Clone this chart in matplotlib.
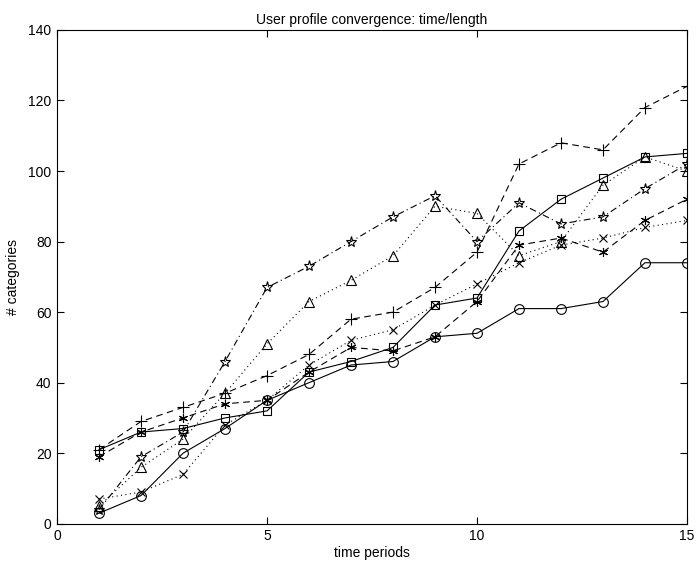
import matplotlib
matplotlib.use("Agg")
import matplotlib.pyplot as plt
import numpy as np

plt.rcParams["font.family"] = ["Liberation Sans", "DejaVu Sans"]

# time periods
periods = np.arange(1, 16)

# one list per user profile (# categories)
circle_vals = [3, 8, 20, 27, 35, 40, 45, 46, 53, 54, 61, 61, 63, 74, 74]
square_vals = [21, 26, 27, 30, 32, 43, 46, 50, 62, 64, 83, 92, 98, 104, 105]
plus_vals = [21, 29, 33, 37, 42, 48, 58, 60, 67, 77, 102, 108, 106, 118, 124]
star_vals = [4, 19, 26, 46, 67, 73, 80, 87, 93, 80, 91, 85, 87, 95, 102]
triangle_vals = [5, 16, 24, 37, 51, 63, 69, 76, 90, 88, 76, 80, 96, 104, 100]
cross_vals = [7, 9, 14, 28, 35, 45, 52, 55, 62, 68, 74, 79, 81, 84, 86]
asterisk_vals = [19, 26, 30, 34, 35, 43, 50, 49, 53, 63, 79, 81, 77, 86, 92]

title = "User profile convergence: time/length"
xlabel = "time periods"
ylabel = "# categories"

# matlab-style asterisk (6 spokes)
ASTERISK = (6, 2, 0)

series = [
    (circle_vals, "o", "-", 7),
    (square_vals, "s", "-", 6),
    (plus_vals, "+", (0, (6, 4)), 8),
    (star_vals, "*", (0, (6, 3, 1, 3)), 8),
    (triangle_vals, "^", (0, (1, 3)), 7),
    (cross_vals, "x", (0, (1, 3)), 6),
    (asterisk_vals, ASTERISK, (0, (6, 4)), 6.5),
]

fig = plt.figure(figsize=(6.96, 5.65), dpi=100)
ax = fig.add_axes([0.082, 0.073, 0.905, 0.874])

for vals, marker, ls, ms in series:
    ax.plot(periods, vals, color="black", linestyle=ls, linewidth=0.8,
            marker=marker, markersize=ms, markerfacecolor="none",
            markeredgecolor="black", markeredgewidth=0.8)

ax.set_xlim(0, 15)
ax.set_ylim(0, 140)
ax.set_xticks([0, 5, 10, 15])
ax.set_yticks(np.arange(0, 141, 20))
ax.tick_params(direction="in", top=True, right=True, length=5,
               width=0.8, labelsize=10, pad=4)
for spine in ax.spines.values():
    spine.set_linewidth(0.8)

ax.set_title(title, fontsize=10, pad=4)
ax.set_xlabel(xlabel, fontsize=10, labelpad=2)
ax.set_ylabel(ylabel, fontsize=10, labelpad=6)

fig.savefig("out.png", dpi=100)
